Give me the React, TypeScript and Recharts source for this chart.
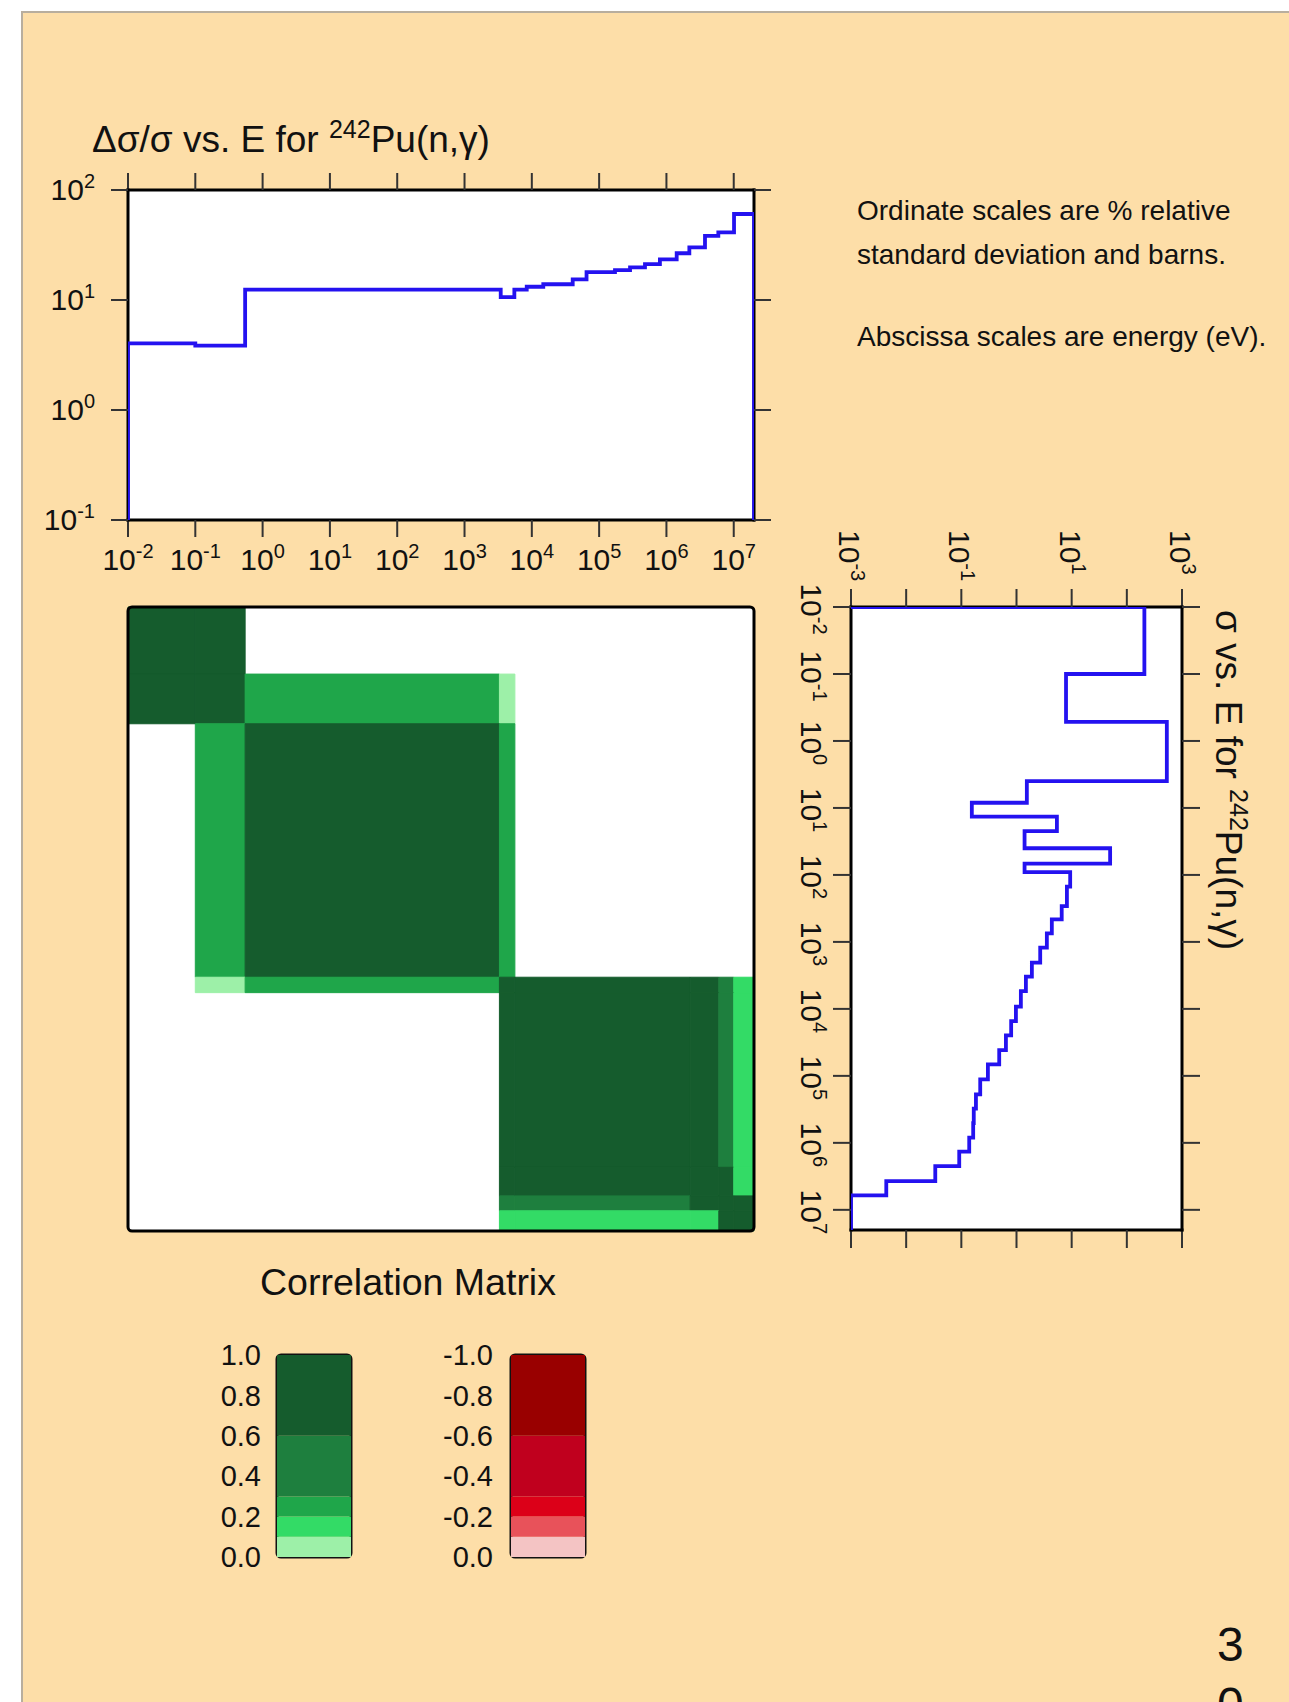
import React from 'react'
import { LineChart, Line, XAxis, YAxis, ScatterChart, ReferenceArea, BarChart, Bar, CartesianGrid } from 'recharts'

const FONT = '"Liberation Sans", Arial, Helvetica, sans-serif'
const PAGE = '#FDDEA8'
const BLUE = '#2412F0'
const INK = '#111111'
const TICK_FS = 30
const SUP_FS = 20

// decade ticks
const energyTicks = [1e-2, 1e-1, 1e0, 1e1, 1e2, 1e3, 1e4, 1e5, 1e6, 1e7]
const sigmaTicks = [1e-3, 1e-2, 1e-1, 1e0, 1e1, 1e2, 1e3]
const relTicks = [1e-1, 1e0, 1e1, 1e2]
const legendTicks = [0, 0.2, 0.4, 0.6, 0.8, 1.0]

// relative uncertainty (%) per energy group
const uncEdges = [0.01, 0.1, 0.55, 3450, 5500, 8400, 14800, 40500, 65000, 1.72e5, 2.88e5, 4.8e5, 8.0e5, 1.42e6, 2.19e6, 3.74e6, 5.9e6, 1.01e7, 2e7]
const uncValues = [4.03, 3.85, 12.4, 10.6, 12.4, 13.2, 13.9, 15.4, 17.9, 18.7, 19.8, 21.2, 23.4, 26.6, 30.1, 38.2, 41.2, 60.5]

// cross section (barns) per energy group
const xsEdges = [0.01, 0.1, 0.52, 3.98, 8.36, 13.5, 22.2, 40, 68, 91, 150, 292, 461, 746, 1220, 2040, 3300, 5420, 9270, 15200, 24900, 41200, 67300, 1.13e5, 1.89e5, 3.09e5, 5.08e5, 8.36e5, 1.35e6, 2.22e6, 3.72e6, 6.08e6, 2e7]
const xsValues = [208, 7.9, 531, 1.54, 0.155, 5.4, 1.4, 49.8, 1.4, 9.4, 8.2, 6.6, 4.37, 3.55, 2.69, 1.9, 1.48, 1.2, 0.976, 0.8, 0.643, 0.486, 0.303, 0.22, 0.184, 0.168, 0.164, 0.139, 0.0916, 0.0337, 0.00436, 0.001]

// correlation matrix groups
const groupEdges = [0.01, 0.1, 0.55, 3300, 5600, 2.25e6, 6e6, 1e7, 2e7]
const corrMatrix = [
  [0.9, 0.9, 0, 0, 0, 0, 0, 0],
  [0.9, 1.0, 0.25, 0.05, 0, 0, 0, 0],
  [0, 0.25, 1.0, 0.25, 0, 0, 0, 0],
  [0, 0.05, 0.25, 1.0, 0.9, 0.9, 0.45, 0.15],
  [0, 0, 0, 0.9, 1.0, 0.9, 0.45, 0.15],
  [0, 0, 0, 0.9, 0.9, 1.0, 0.8, 0.15],
  [0, 0, 0, 0.45, 0.45, 0.8, 1.0, 0.8],
  [0, 0, 0, 0.15, 0.15, 0.15, 0.8, 1.0],
]

// colour scale
const corrBreaks = [0, 0.1, 0.2, 0.3, 0.6, 1.0]
const greens = ['#9DF0A8', '#33DB66', '#1FA64A', '#1E7F3E', '#155C2D']
const reds = ['#F4C4C4', '#E8525A', '#DC0018', '#C0001E', '#990000']

const relPoints = [
  { e: uncEdges[0], v: 0.1 },
  ...uncValues.map((v, i) => ({ e: uncEdges[i], v })),
  { e: uncEdges[uncEdges.length - 1], v: uncValues[uncValues.length - 1] },
  { e: uncEdges[uncEdges.length - 1], v: 0.1 },
]

const xsPoints = [
  { e: xsEdges[0], s: 0.001 },
  ...xsValues.map((s, i) => ({ e: xsEdges[i], s })),
  { e: xsEdges[xsEdges.length - 1], s: xsValues[xsValues.length - 1] },
]

function shadeIndex(c: number) {
  const a = Math.abs(c)
  return corrBreaks.findIndex((b, i) => i > 0 && a <= b) - 1
}

const cells: any[] = []
corrMatrix.forEach((row, i) =>
  row.forEach((c, j) => {
    if (c === 0) return
    const k = shadeIndex(c)
    cells.push({
      x1: groupEdges[j], x2: groupEdges[j + 1],
      y1: groupEdges[i], y2: groupEdges[i + 1],
      fill: c > 0 ? greens[k] : reds[k],
    })
  })
)

const bandKeys = corrBreaks.slice(1).map((_, i) => `b${i}`)
const legendRow: any = { name: 'scale' }
bandKeys.forEach((k, i) => { legendRow[k] = +(corrBreaks[i + 1] - corrBreaks[i]).toFixed(2) })

const axisLine = { stroke: '#000', strokeWidth: 3, strokeLinecap: 'square' as const }
const tickLine = { stroke: '#333', strokeWidth: 2 }

const exponent = (v: number) => Math.round(Math.log10(v))
const NoLabel = () => <g />

function BottomPowTick(props: any) {
  const { x, y, payload } = props
  return (
    <text x={x} y={y + 33} textAnchor="middle" fontSize={TICK_FS} fill={INK} fontFamily={FONT}>
      10<tspan dy={-12} fontSize={SUP_FS}>{exponent(payload.value)}</tspan>
    </text>
  )
}

function LeftPowTick(props: any) {
  const { x, y, payload } = props
  return (
    <text x={x - 16} y={y + 10} textAnchor="end" fontSize={TICK_FS} fill={INK} fontFamily={FONT}>
      10<tspan dy={-12} fontSize={SUP_FS}>{exponent(payload.value)}</tspan>
    </text>
  )
}

function SigmaTick(props: any) {
  const { x, y, payload } = props
  const exp = exponent(payload.value)
  if (Math.abs(exp) % 2 === 0) return <g />
  const px = x - 12
  const py = y - 59
  return (
    <text x={px} y={py} transform={`rotate(90 ${px} ${py})`} fontSize={TICK_FS} fill={INK} fontFamily={FONT}>
      10<tspan dy={-12} fontSize={SUP_FS}>{exp}</tspan>
    </text>
  )
}

function EnergyTick(props: any) {
  const { x, y, payload } = props
  const px = x - 32
  const py = y + 2
  return (
    <text x={px} y={py} transform={`rotate(90 ${px} ${py})`} textAnchor="middle" fontSize={TICK_FS} fill={INK} fontFamily={FONT}>
      10<tspan dy={-12} fontSize={SUP_FS}>{exponent(payload.value)}</tspan>
    </text>
  )
}

function UncertaintyChart() {
  return (
    <LineChart width={746} height={420} data={relPoints} margin={{ top: 0, right: 0, bottom: 0, left: 0 }}>
      <CartesianGrid horizontal={false} vertical={false} fill="#fff" fillOpacity={1} />
      <XAxis dataKey="e" type="number" scale="log" domain={[0.01, 2e7]} allowDataOverflow ticks={energyTicks}
        interval={0} height={60} tickSize={17} tickMargin={0} axisLine={axisLine} tickLine={tickLine} tick={BottomPowTick} />
      <XAxis xAxisId="top" orientation="top" dataKey="e" type="number" scale="log" domain={[0.01, 2e7]} allowDataOverflow
        ticks={energyTicks} interval={0} height={30} tickSize={17} axisLine={axisLine} tickLine={tickLine} tick={NoLabel} />
      <YAxis type="number" scale="log" domain={[0.1, 100]} allowDataOverflow ticks={relTicks} interval={0} width={90}
        tickSize={17} tickMargin={0} axisLine={axisLine} tickLine={tickLine} tick={LeftPowTick} />
      <YAxis yAxisId="right" orientation="right" type="number" scale="log" domain={[0.1, 100]} allowDataOverflow
        ticks={relTicks} interval={0} width={30} tickSize={17} axisLine={axisLine} tickLine={tickLine} tick={NoLabel} />
      <Line dataKey="v" type="stepAfter" stroke={BLUE} strokeWidth={3.8} dot={false} activeDot={false}
        isAnimationActive={false} zIndex={800} />
    </LineChart>
  )
}

function CrossSectionChart() {
  return (
    <LineChart layout="vertical" width={421} height={743} data={xsPoints} margin={{ top: 0, right: 0, bottom: 0, left: 0 }}>
      <CartesianGrid horizontal={false} vertical={false} fill="#fff" fillOpacity={1} />
      <XAxis type="number" orientation="top" scale="log" domain={[1e-3, 1e3]} allowDataOverflow ticks={sigmaTicks}
        interval={0} height={90} tickSize={18} tickMargin={0} axisLine={axisLine} tickLine={tickLine} tick={SigmaTick} />
      <XAxis xAxisId="b" type="number" scale="log" domain={[1e-3, 1e3]} allowDataOverflow ticks={sigmaTicks}
        interval={0} height={30} tickSize={18} axisLine={axisLine} tickLine={tickLine} tick={NoLabel} />
      <YAxis type="number" dataKey="e" scale="log" domain={[0.01, 2e7]} allowDataOverflow ticks={energyTicks}
        interval={0} width={60} tickSize={18} tickMargin={0} axisLine={axisLine} tickLine={tickLine} tick={EnergyTick} />
      <YAxis yAxisId="r" orientation="right" type="number" dataKey="e" scale="log" domain={[0.01, 2e7]} allowDataOverflow
        ticks={energyTicks} interval={0} width={30} tickSize={18} axisLine={axisLine} tickLine={tickLine} tick={NoLabel} />
      <Line dataKey="s" type="stepBefore" stroke={BLUE} strokeWidth={3.8} dot={false} activeDot={false}
        isAnimationActive={false} zIndex={800} />
    </LineChart>
  )
}

function CorrelationMatrix() {
  return (
    <ScatterChart width={634} height={632} margin={{ top: 4, right: 4, bottom: 4, left: 4 }}>
      <CartesianGrid horizontal={false} vertical={false} fill="#fff" fillOpacity={1} />
      <XAxis type="number" dataKey="x" scale="log" domain={[0.01, 2e7]} allowDataOverflow hide />
      <YAxis type="number" dataKey="y" scale="log" domain={[0.01, 2e7]} allowDataOverflow reversed hide />
      {cells.map((c, i) => (
        <ReferenceArea key={i} x1={c.x1} x2={c.x2} y1={c.y1} y2={c.y2} fill={c.fill} fillOpacity={1}
          stroke={c.fill} strokeWidth={1} ifOverflow="visible" />
      ))}
      <ReferenceArea x1={0.01} x2={2e7} y1={0.01} y2={2e7} fill="none" stroke="#000" strokeWidth={3}
        radius={4} ifOverflow="visible" />
    </ScatterChart>
  )
}

function ColourKey({ shades, negative }: { shades: string[]; negative: boolean }) {
  return (
    <BarChart width={149} height={232} data={[legendRow]} margin={{ top: 15, right: 5, bottom: 15, left: 0 }} barCategoryGap={0}>
      <XAxis dataKey="name" hide />
      <YAxis type="number" domain={[0, 1]} ticks={legendTicks} interval={0} width={70} tickSize={0}
        tickMargin={negative ? 18 : 16} axisLine={false} tickLine={false}
        tick={{ fontSize: 29, fill: INK, fontFamily: FONT }}
        tickFormatter={(v: number) => (negative && v !== 0 ? (-v).toFixed(1) : v.toFixed(1))} />
      {bandKeys.map((k, i) => (
        <Bar key={k} dataKey={k} stackId="a" fill={shades[i]} isAnimationActive={false} />
      ))}
      <ReferenceArea y1={0} y2={1} fill="none" stroke="#111" strokeWidth={3} radius={4} ifOverflow="visible" />
    </BarChart>
  )
}

const abs = (left: number, top: number): React.CSSProperties => ({ position: 'absolute', left, top })

export default function App() {
  return (
    <div style={{ position: 'absolute', left: 0, top: 0, width: 1289, height: 1702, background: '#fff', overflow: 'hidden', fontFamily: FONT, color: INK }}>
      <div style={{ position: 'absolute', left: 21, top: 11, right: 0, bottom: 0, background: PAGE, borderLeft: '2px solid #B8AE9E', borderTop: '2px solid #B8AE9E' }} />

      <div style={{ ...abs(92, 121), fontSize: 37, lineHeight: '37px', whiteSpace: 'nowrap' }}>
        Δσ/σ vs. E for <span style={{ fontSize: 25, position: 'relative', top: -14 }}>242</span>Pu(n,γ)
      </div>

      <div style={{ ...abs(38, 160) }}><UncertaintyChart /></div>

      <div style={{ ...abs(857, 197), fontSize: 28, lineHeight: '28px', whiteSpace: 'nowrap' }}>Ordinate scales are % relative</div>
      <div style={{ ...abs(857, 241), fontSize: 28, lineHeight: '28px', whiteSpace: 'nowrap' }}>standard deviation and barns.</div>
      <div style={{ ...abs(857, 323), fontSize: 28, lineHeight: '28px', whiteSpace: 'nowrap' }}>Abscissa scales are energy (eV).</div>

      <div style={{ ...abs(124, 603) }}><CorrelationMatrix /></div>

      <div style={{ ...abs(791, 517) }}><CrossSectionChart /></div>

      <div style={{ ...abs(1247, 610), fontSize: 37, lineHeight: '37px', whiteSpace: 'nowrap', transform: 'rotate(90deg)', transformOrigin: '0 0' }}>
        σ vs. E for <span style={{ fontSize: 25, position: 'relative', top: -14 }}>242</span>Pu(n,γ)
      </div>

      <div style={{ ...abs(208, 1264), width: 400, textAlign: 'center', fontSize: 37.5, lineHeight: '37px', whiteSpace: 'nowrap' }}>Correlation Matrix</div>

      <div style={{ ...abs(207, 1340) }}><ColourKey shades={greens} negative={false} /></div>
      <div style={{ ...abs(441, 1340) }}><ColourKey shades={reds} negative /></div>

      <div style={{ ...abs(1217, 1615), fontSize: 48, lineHeight: '60px' }}>3<br />0</div>
    </div>
  )
}
